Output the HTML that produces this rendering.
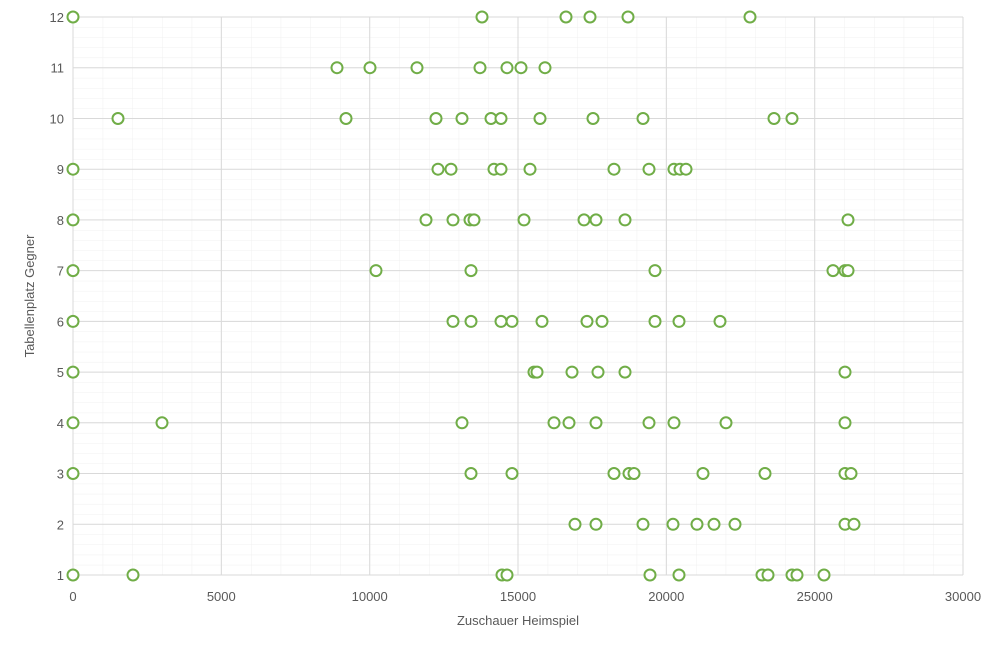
<!DOCTYPE html>
<html><head><meta charset="utf-8"><style>
body{margin:0;background:#fff}
svg text{font-family:"Liberation Sans",sans-serif;fill:#595959}
</style></head><body>
<svg width="1000" height="647" viewBox="0 0 1000 647" xmlns="http://www.w3.org/2000/svg">
<defs>
<pattern id="mg" x="73" y="17" width="29.6667" height="10.145" patternUnits="userSpaceOnUse">
<path d="M0 0V10.145M0 0H29.6667" stroke="#f0f0f0" stroke-width="1" fill="none"/>
</pattern>
<circle id="m" r="5.5" fill="#fff" stroke="#70ad47" stroke-width="2"/>
</defs>
<rect x="73" y="17" width="890" height="558" fill="url(#mg)"/>
<g stroke="#d9d9d9" stroke-width="1">
<line x1="73" x2="963" y1="17" y2="17"/><line x1="73" x2="963" y1="67.7" y2="67.7"/><line x1="73" x2="963" y1="118.5" y2="118.5"/><line x1="73" x2="963" y1="169.2" y2="169.2"/><line x1="73" x2="963" y1="219.9" y2="219.9"/><line x1="73" x2="963" y1="270.6" y2="270.6"/><line x1="73" x2="963" y1="321.4" y2="321.4"/><line x1="73" x2="963" y1="372.1" y2="372.1"/><line x1="73" x2="963" y1="422.8" y2="422.8"/><line x1="73" x2="963" y1="473.5" y2="473.5"/><line x1="73" x2="963" y1="524.3" y2="524.3"/><line x1="73" x2="963" y1="575" y2="575"/>
<line x1="73" x2="73" y1="17" y2="575"/><line x1="221.3" x2="221.3" y1="17" y2="575"/><line x1="369.7" x2="369.7" y1="17" y2="575"/><line x1="518" x2="518" y1="17" y2="575"/><line x1="666.3" x2="666.3" y1="17" y2="575"/><line x1="814.7" x2="814.7" y1="17" y2="575"/><line x1="963" x2="963" y1="17" y2="575"/>
</g>
<g font-size="13" text-anchor="end">
<text x="64" y="22">12</text><text x="64" y="72.7">11</text><text x="64" y="123.5">10</text><text x="64" y="174.2">9</text><text x="64" y="224.9">8</text><text x="64" y="275.6">7</text><text x="64" y="326.4">6</text><text x="64" y="377.1">5</text><text x="64" y="427.8">4</text><text x="64" y="478.5">3</text><text x="64" y="529.3">2</text><text x="64" y="580">1</text>
</g>
<g font-size="13" text-anchor="middle">
<text x="73" y="601">0</text><text x="221.3" y="601">5000</text><text x="369.7" y="601">10000</text><text x="518" y="601">15000</text><text x="666.3" y="601">20000</text><text x="814.7" y="601">25000</text><text x="963" y="601">30000</text>
<text x="518" y="625" font-size="13">Zuschauer Heimspiel</text>
<text transform="translate(34,296) rotate(-90)" font-size="13">Tabellenplatz Gegner</text>
</g>
<g>
<use href="#m" x="73" y="17"/><use href="#m" x="482" y="17"/><use href="#m" x="566" y="17"/><use href="#m" x="590" y="17"/><use href="#m" x="628" y="17"/><use href="#m" x="750" y="17"/>
<use href="#m" x="337" y="67.7"/><use href="#m" x="370" y="67.7"/><use href="#m" x="417" y="67.7"/><use href="#m" x="480" y="67.7"/><use href="#m" x="507" y="67.7"/><use href="#m" x="521" y="67.7"/><use href="#m" x="545" y="67.7"/>
<use href="#m" x="118" y="118.5"/><use href="#m" x="346" y="118.5"/><use href="#m" x="436" y="118.5"/><use href="#m" x="462" y="118.5"/><use href="#m" x="491" y="118.5"/><use href="#m" x="501" y="118.5"/><use href="#m" x="540" y="118.5"/><use href="#m" x="593" y="118.5"/><use href="#m" x="643" y="118.5"/><use href="#m" x="774" y="118.5"/><use href="#m" x="792" y="118.5"/>
<use href="#m" x="73" y="169.2"/><use href="#m" x="438" y="169.2"/><use href="#m" x="451" y="169.2"/><use href="#m" x="494" y="169.2"/><use href="#m" x="501" y="169.2"/><use href="#m" x="530" y="169.2"/><use href="#m" x="614" y="169.2"/><use href="#m" x="649" y="169.2"/><use href="#m" x="674" y="169.2"/><use href="#m" x="680" y="169.2"/><use href="#m" x="686" y="169.2"/>
<use href="#m" x="73" y="219.9"/><use href="#m" x="426" y="219.9"/><use href="#m" x="453" y="219.9"/><use href="#m" x="470" y="219.9"/><use href="#m" x="474" y="219.9"/><use href="#m" x="524" y="219.9"/><use href="#m" x="584" y="219.9"/><use href="#m" x="596" y="219.9"/><use href="#m" x="625" y="219.9"/><use href="#m" x="848" y="219.9"/>
<use href="#m" x="73" y="270.6"/><use href="#m" x="376" y="270.6"/><use href="#m" x="471" y="270.6"/><use href="#m" x="655" y="270.6"/><use href="#m" x="833" y="270.6"/><use href="#m" x="845" y="270.6"/><use href="#m" x="848" y="270.6"/>
<use href="#m" x="73" y="321.4"/><use href="#m" x="453" y="321.4"/><use href="#m" x="471" y="321.4"/><use href="#m" x="501" y="321.4"/><use href="#m" x="512" y="321.4"/><use href="#m" x="542" y="321.4"/><use href="#m" x="587" y="321.4"/><use href="#m" x="602" y="321.4"/><use href="#m" x="655" y="321.4"/><use href="#m" x="679" y="321.4"/><use href="#m" x="720" y="321.4"/>
<use href="#m" x="73" y="372.1"/><use href="#m" x="534" y="372.1"/><use href="#m" x="537" y="372.1"/><use href="#m" x="572" y="372.1"/><use href="#m" x="598" y="372.1"/><use href="#m" x="625" y="372.1"/><use href="#m" x="845" y="372.1"/>
<use href="#m" x="73" y="422.8"/><use href="#m" x="162" y="422.8"/><use href="#m" x="462" y="422.8"/><use href="#m" x="554" y="422.8"/><use href="#m" x="569" y="422.8"/><use href="#m" x="596" y="422.8"/><use href="#m" x="649" y="422.8"/><use href="#m" x="674" y="422.8"/><use href="#m" x="726" y="422.8"/><use href="#m" x="845" y="422.8"/>
<use href="#m" x="73" y="473.5"/><use href="#m" x="471" y="473.5"/><use href="#m" x="512" y="473.5"/><use href="#m" x="614" y="473.5"/><use href="#m" x="629" y="473.5"/><use href="#m" x="634" y="473.5"/><use href="#m" x="703" y="473.5"/><use href="#m" x="765" y="473.5"/><use href="#m" x="845" y="473.5"/><use href="#m" x="851" y="473.5"/>
<use href="#m" x="575" y="524.3"/><use href="#m" x="596" y="524.3"/><use href="#m" x="643" y="524.3"/><use href="#m" x="673" y="524.3"/><use href="#m" x="697" y="524.3"/><use href="#m" x="714" y="524.3"/><use href="#m" x="735" y="524.3"/><use href="#m" x="845" y="524.3"/><use href="#m" x="854" y="524.3"/>
<use href="#m" x="73" y="575"/><use href="#m" x="133" y="575"/><use href="#m" x="502" y="575"/><use href="#m" x="507" y="575"/><use href="#m" x="650" y="575"/><use href="#m" x="679" y="575"/><use href="#m" x="762" y="575"/><use href="#m" x="768" y="575"/><use href="#m" x="792" y="575"/><use href="#m" x="797" y="575"/><use href="#m" x="824" y="575"/>
</g>
</svg>
</body></html>
